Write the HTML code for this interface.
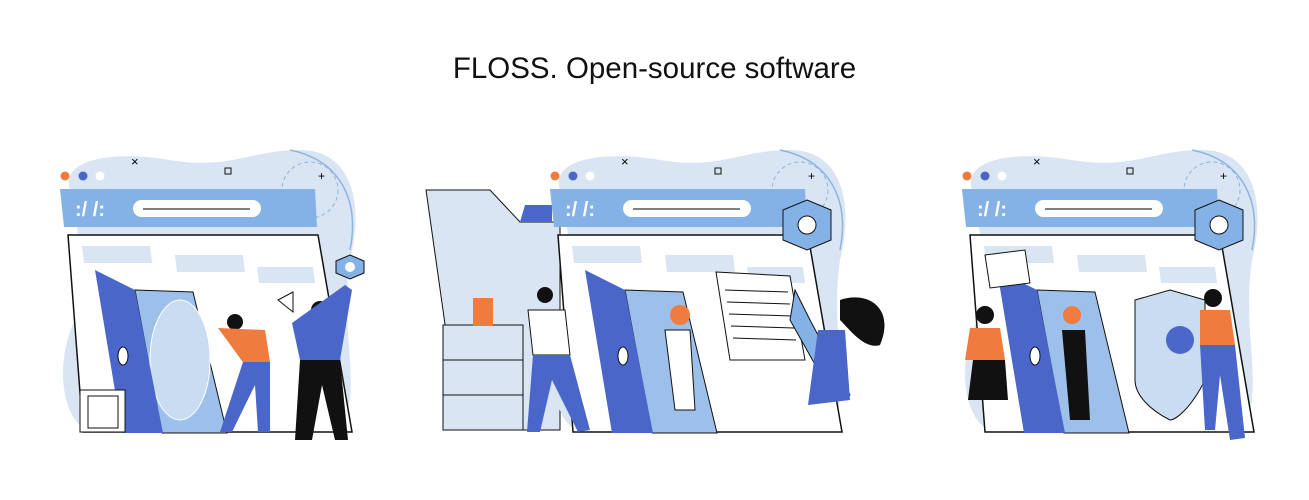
<!DOCTYPE html>
<html><head><meta charset="utf-8"><style>
html,body{margin:0;padding:0;background:#fff;width:1309px;height:500px;overflow:hidden}
.t{position:absolute;left:0;width:1309px;top:52px;text-align:center;font-family:"Liberation Sans",sans-serif;font-size:29.5px;color:#111}
svg{position:absolute;left:0;top:0}
</style></head><body>
<div class="t">FLOSS. Open-source software</div>
<svg width="1309" height="500" viewBox="0 0 1309 500">
<defs>
<g id="frame">
<path d="M70 190 C60 160 110 150 170 160 C230 170 250 150 300 150 C350 150 365 200 350 260 C340 330 360 380 345 420 L90 432 C60 420 55 360 75 320 C85 290 80 230 70 190 Z" fill="#d9e5f3"/>
<path d="M290 150 C340 160 360 200 350 250" fill="none" stroke="#8fb4e0" stroke-width="1.5"/>
<circle cx="310" cy="190" r="28" fill="none" stroke="#8fb4e0" stroke-dasharray="4 3"/>
<circle cx="65" cy="176" r="4.5" fill="#f07b3f"/><circle cx="83" cy="176" r="4.5" fill="#4a66c9"/><circle cx="100" cy="176" r="4.5" fill="#fff"/>
<text x="131" y="166" font-family="Liberation Sans,sans-serif" font-size="13">×</text>
<rect x="225" y="168" width="6" height="6" fill="none" stroke="#111"/>
<text x="318" y="180" font-family="Liberation Sans,sans-serif" font-size="12">+</text>
<polygon points="60,189 315,189 317,227 64,227" fill="#84b2e6"/>
<text x="75" y="216" font-family="Liberation Sans,sans-serif" font-size="20" font-weight="bold" fill="#fff">:/ /:</text>
<rect x="133" y="200" width="128" height="17" rx="8.5" fill="#fff"/>
<line x1="143" y1="209" x2="250" y2="209" stroke="#333" stroke-width="1.2"/>
<polygon points="68,235 318,235 352,432 83,432" fill="#fff" stroke="#111" stroke-width="1.5"/>
<polygon points="82,246 150,246 152,263 84,263" fill="#d9e5f3"/>
<polygon points="175,255 243,255 245,272 177,272" fill="#d9e5f3"/>
<polygon points="257,267 313,267 315,283 259,283" fill="#d9e5f3"/>
</g>
</defs>
<!-- panel2 folder (behind) -->
<path d="M426 190 L490 190 L520 222 L560 222 L560 430 L460 430 Z" fill="#d9e5f3" stroke="#111"/>
<polygon points="525,205 552,205 552,222 520,222" fill="#4a66c9"/>
<use href="#frame"/>
<use href="#frame" transform="translate(490,0)"/>
<use href="#frame" transform="translate(902,0)"/>

<!-- panel1 -->
<polygon points="135,290 193,292 227,433 162,433" fill="#9dc0ea" stroke="#111"/>
<ellipse cx="180" cy="360" rx="30" ry="60" fill="#c9dcf2" stroke="#fff"/>
<polygon points="95,270 135,290 163,433 122,433" fill="#4a66c9"/>
<ellipse cx="123" cy="356" rx="5" ry="9" fill="#fff" stroke="#111"/>
<rect x="80" y="390" width="45" height="42" fill="#fff" stroke="#111"/>
<rect x="88" y="396" width="30" height="32" fill="none" stroke="#111"/>
<path d="M350 255 l14 6 l0 12 l-14 6 l-14 -6 l0 -12z" fill="#84b2e6" stroke="#111"/><circle cx="350" cy="267" r="5" fill="#fff"/>
<circle cx="235" cy="322" r="8" fill="#111"/>
<path d="M218 328 L265 330 L270 362 L245 365 Z" fill="#f07b3f"/>
<path d="M243 362 L270 362 L270 432 L258 432 L255 385 L232 432 L220 432 Z" fill="#4a66c9"/>
<circle cx="320" cy="310" r="9" fill="#111"/>
<path d="M292 323 L345 285 L352 290 L340 360 L300 360 Z" fill="#4a66c9"/>
<path d="M300 360 L340 360 L348 440 L335 440 L322 385 L312 440 L295 440 Z" fill="#111"/>
<path d="M278 300 l15 -8 l0 20 z" fill="#fff" stroke="#111"/>

<!-- panel2 -->
<polygon points="625,290 683,292 717,433 652,433" fill="#9dc0ea" stroke="#111"/>
<polygon points="585,270 625,290 653,433 612,433" fill="#4a66c9"/>
<ellipse cx="623" cy="356" rx="5" ry="9" fill="#fff" stroke="#111"/>
<rect x="443" y="325" width="80" height="105" fill="#d9e5f3" stroke="#111"/>
<line x1="443" y1="360" x2="523" y2="360" stroke="#111"/><line x1="443" y1="395" x2="523" y2="395" stroke="#111"/>
<rect x="473" y="298" width="20" height="28" fill="#f07b3f"/>
<polygon points="716,272 790,276 805,360 730,360" fill="#fff" stroke="#111"/>
<g stroke="#111"><line x1="725" y1="290" x2="788" y2="292"/><line x1="727" y1="302" x2="790" y2="304"/><line x1="729" y1="314" x2="792" y2="316"/><line x1="731" y1="326" x2="794" y2="328"/><line x1="733" y1="338" x2="796" y2="340"/></g>
<path d="M807 200 l24 10 l0 30 l-24 10 l-24 -10 l0 -30z" fill="#84b2e6" stroke="#111"/><circle cx="807" cy="225" r="9" fill="#fff" stroke="#111"/>
<circle cx="545" cy="295" r="8" fill="#111"/>
<path d="M528 310 L565 310 L570 355 L533 355 Z" fill="#fff" stroke="#111"/>
<path d="M533 355 L570 355 L590 430 L578 432 L552 380 L540 432 L527 432 Z" fill="#4a66c9"/>
<circle cx="680" cy="315" r="10" fill="#f07b3f"/>
<path d="M665 330 L690 330 L695 410 L675 410 Z" fill="#fff" stroke="#111"/>
<path d="M795 290 L810 320 L850 395 L835 400 L790 320 Z" fill="#84b2e6" stroke="#111"/>
<path d="M840 300 C870 290 895 310 880 345 C865 350 850 330 840 320 Z" fill="#111"/>
<path d="M818 330 L845 330 L850 400 L808 405 Z" fill="#4a66c9"/>

<!-- panel3 -->
<polygon points="1037,290 1095,292 1129,433 1064,433" fill="#9dc0ea" stroke="#111"/>
<polygon points="997,270 1037,290 1065,433 1024,433" fill="#4a66c9"/>
<ellipse cx="1035" cy="356" rx="5" ry="9" fill="#fff" stroke="#111"/>
<path d="M1170 290 L1205 300 L1205 380 C1190 410 1175 420 1170 420 C1150 410 1135 395 1135 380 L1135 300 Z" fill="#c9dcf2" stroke="#111"/>
<circle cx="1180" cy="340" r="14" fill="#4a66c9"/>
<path d="M1219 200 l24 10 l0 30 l-24 10 l-24 -10 l0 -30z" fill="#84b2e6" stroke="#111"/><circle cx="1219" cy="225" r="9" fill="#fff" stroke="#111"/>
<polygon points="985,255 1025,250 1030,283 990,288" fill="#fff" stroke="#111"/>
<circle cx="985" cy="315" r="9" fill="#111"/>
<path d="M970 328 L1000 328 L1005 360 L965 360 Z" fill="#f07b3f"/>
<path d="M973 360 L1005 360 L1008 400 L968 400 Z" fill="#111"/>
<circle cx="1072" cy="315" r="9" fill="#f07b3f"/>
<path d="M1062 330 L1085 330 L1090 420 L1070 420 Z" fill="#111"/>
<circle cx="1213" cy="298" r="9" fill="#111"/>
<path d="M1200 310 L1230 310 L1235 345 L1200 345 Z" fill="#f07b3f"/>
<path d="M1200 345 L1235 345 L1245 438 L1230 440 L1220 375 L1215 430 L1205 430 Z" fill="#4a66c9"/>
</svg>
</body></html>
